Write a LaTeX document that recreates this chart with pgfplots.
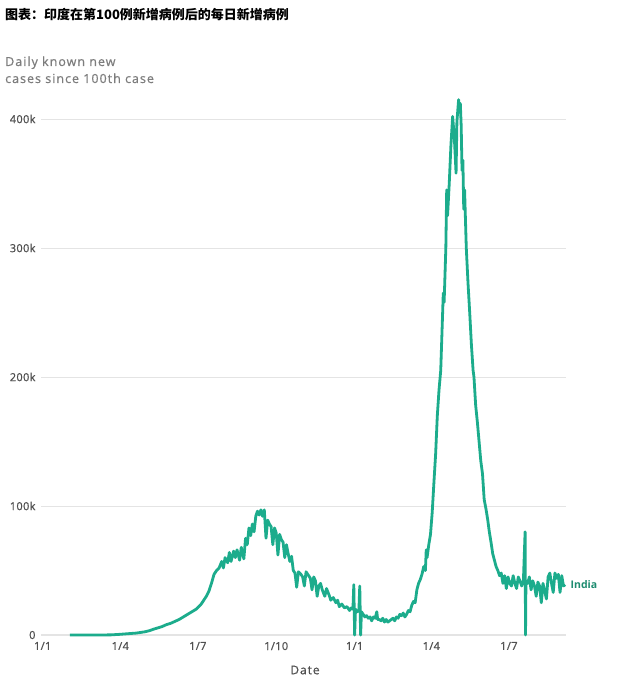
\documentclass[border=0pt]{standalone}
\usepackage{fontspec}
\setmainfont{Open Sans}
\newfontfamily\labelfont[LetterSpace=8,FakeBold=0.6]{Open Sans}
\newfontfamily\tickfont[LetterSpace=3,FakeBold=0.8]{Open Sans}
\newfontfamily\cjk{Noto Sans CJK SC}
\usepackage{pgfplots}
\pgfplotsset{compat=1.18}
\definecolor{teal1}{RGB}{28,172,140}
\definecolor{tealdark}{RGB}{30,140,112}
\definecolor{gridc}{RGB}{228,228,228}
\definecolor{txt}{RGB}{80,80,80}
\definecolor{ttl}{RGB}{125,125,125}
\begin{document}
\begin{tikzpicture}[x=1pt,y=1pt]
\useasboundingbox (0,0) rectangle (640,679);
\fill[white] (0,0) rectangle (640,679);
\node[anchor=base west, inner sep=0] at (5,659) {\cjk\bfseries\fontsize{13}{15}\selectfont 图表：印度在第100例新增病例后的每日新增病例};
\node[anchor=base west, inner sep=0, text=ttl, font=\labelfont\fontsize{12.5}{14}\selectfont] at (5,613) {Daily known new};
\node[anchor=base west, inner sep=0, text=ttl, font=\labelfont\fontsize{12.5}{14}\selectfont] at (5,596) {cases since 100th case};
\begin{axis}[
  at={(41pt,44pt)}, anchor=south west,
  scale only axis, width=525pt, height=541.8pt,
  xmin=-2, xmax=614, ymin=0, ymax=420,
  clip=false,
  axis x line*=bottom, axis y line*=left,
  x axis line style={-, draw=gridc, line width=1.2pt},
  y axis line style={draw=none},
  major tick length=0pt,
  ymajorgrids, grid style={draw=gridc, line width=0.8pt},
  xtick={0,91,182,274,366,456,547},
  xticklabels={1/1,1/4,1/7,1/10,1/1,1/4,1/7},
  ytick={0,100,200,300,400},
  yticklabels={0,100k,200k,300k,400k},
  ticklabel style={text=txt, font=\tickfont\fontsize{11}{13}\selectfont},
  yticklabel style={anchor=east, xshift=-2pt},
  xticklabel style={yshift=-3.5pt},
]
\addplot[teal1, line width=2.8pt, line join=round, mark=none] coordinates {
(32,0)(60,0)(80,0.1)(90,0.5)(100,1)(110,1.5)(120,2.5)(126,3.5)(130,4.5)(135,5.5)
(140,6.5)(145,8)(150,9)(155,10.5)(160,12)(165,14)(170,16)(175,18)(180,20)(183,22)
(186,24)(189,27)(192,30)(195,34)(198,40)(201,47)(204,50)(207,52)(210,57)(212,52)
(214,60)(217,56)(219,64)(221,57)(224,65)(226,60)(228,66)(231,58)(233,68)(236,59)
(238,75)(240,70)(242,83)(244,77)(246,86)(248,80)(250,92)(252,96)(254,93)(256,97)
(258,92)(260,97)(262,75)(264,89)(266,86)(268,84)(270,70)(272,83)(274,79)(276,62)
(278,78)(280,74)(282,72)(284,60)(286,70)(288,63)(290,57)(292,61)(294,50)(296,48)
(298,37)(300,49)(303,47)(305,45)(307,38)(309,49)(312,46)(314,44)(316,35)(318,45)
(320,42)(322,30)(324,38)(326,40)(328,35)(331,30)(333,36)(336,31)(338,27)(341,29)
(344,25)(346,27)(348,22)(351,24)(354,21)(357,22)(360,19)(362,21)(364,20)(365,39)
(366,0)(367,20)(369,18)(371,19)(372,38)(373,0)(374,18)(376,16)(378,14)(380,15)
(382,13)(384,14)(386,11)(388,14)(390,13)(392,18)(393,12)(395,12)(397,11)(399,13)
(401,10)(403,12)(405,10)(407,11)(409,12)(411,13)(413,11)(415,14)(417,13)(419,16)
(421,15)(423,17)(425,14)(427,16)(429,19)(431,18)(433,23)(435,26)(437,25)(439,35)
(441,40)(443,43)(445,47)(447,53)(449,50)(450,66)(451,60)(453,70)(455,78)(457,95)
(459,118)(461,140)(463,170)(465,190)(467,205)(469,245)(470,265)(471,258)(473,300)(474,345)
(475,325)(477,350)(479,380)(481,402)(483,385)(485,358)(486,398)(488,415)(489,405)(490,412)
(491,395)(492,360)(493,368)(494,330)(495,345)(497,300)(499,273)(501,250)(503,225)(505,205)
(506,200)(508,178)(510,165)(512,150)(514,135)(516,125)(518,105)(520,98)(522,90)(524,80)
(526,72)(528,63)(530,58)(532,53)(534,50)(536,46)(538,48)(540,40)(542,46)(544,36)
(546,45)(548,40)(550,38)(552,46)(554,40)(556,36)(558,45)(560,42)(562,38)(564,42)
(566,80)(566.5,0)(567,42)(569,40)(571,45)(573,35)(575,42)(577,38)(579,30)(581,41)
(583,38)(585,25)(587,40)(589,34)(591,28)(593,45)(595,48)(597,40)(599,33)(601,48)
(603,44)(605,47)(607,33)(609,46)(611,38)(613,39)
};
\node[anchor=west, text=tealdark, font=\bfseries\fontsize{10.5}{12}\selectfont, xshift=2pt] at (axis cs:613,39) {India};
\end{axis}
\node[text=txt, font=\labelfont\fontsize{12}{14}\selectfont] at (305,9) {Date};
\end{tikzpicture}
\end{document}
